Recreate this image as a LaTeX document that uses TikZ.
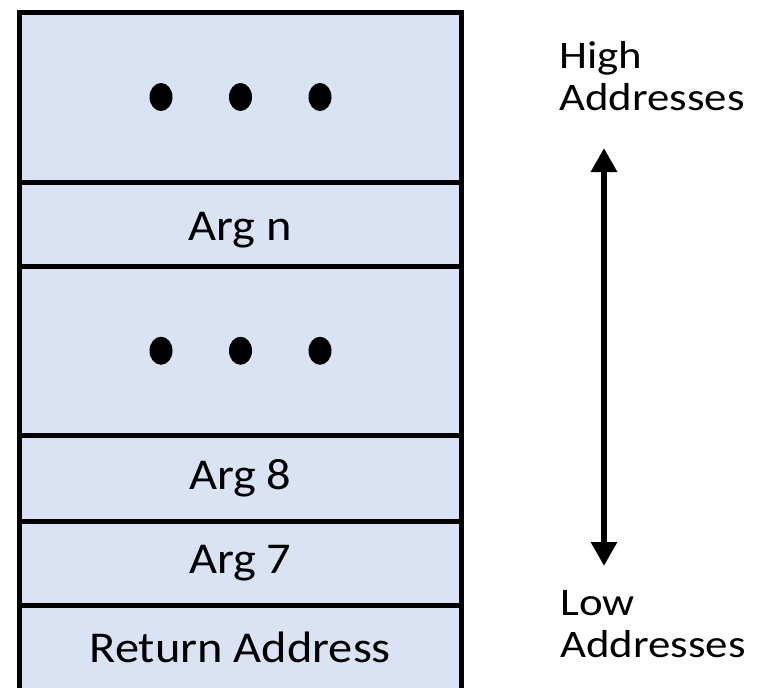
\documentclass[tikz,border=0pt]{standalone}
\usepackage{fontspec}
\setmainfont{Carlito}[FakeStretch=1.15]
\newfontfamily\cellfont{Carlito}[FakeStretch=1.1]
\usepackage{xcolor}
\usepackage{tikz}
\usetikzlibrary{arrows.meta, positioning, shapes.geometric}
\definecolor{cell}{HTML}{DAE3F3}

\begin{document}
\begin{tikzpicture}[x=1pt, y=-1pt,
  frame/.style={rectangle, draw=black, line width=5pt, fill=cell, minimum width=441.5pt, inner sep=0pt, font=\cellfont\fontsize{44}{50}\selectfont},
  dot/.style={ellipse, fill=black, minimum width=23pt, minimum height=28pt, inner sep=0pt},
  side/.style={anchor=north west, inner sep=0pt, align=left, font=\fontsize{39}{42}\selectfont},
  arrow/.style={{Triangle[length=24pt, width=25pt]}-{Triangle[length=24pt, width=25pt]}, line width=6.5pt, black}
]
  \useasboundingbox (0,0) rectangle (763,688);

  % Stack frame, top to bottom
  \node[frame, minimum height=170pt] (more1) at (240.25,97) {};
  \node[frame, minimum height=84pt] (argn) at (240.25,224) {};
  \node[frame, minimum height=169.5pt] (more2) at (240.25,350.75) {};
  \node[frame, minimum height=85.5pt] (arg8) at (240.25,478.25) {Arg 8};
  \node[frame, minimum height=84.5pt] (arg7) at (240.25,563.25) {Arg 7};
  \node[frame, minimum height=84.5pt] (ret) at (240.25,647.75) {Return Address};
  \node[font=\cellfont\fontsize{44}{50}\selectfont, yshift=-6pt] (argnlabel) at (argn) {Arg n};

  % Dots in the open rows
  \foreach \x/\n in {161/a, 240.5/b, 320/c} {
    \node[dot] (top\n) at (\x,97) {};
    \node[dot] (mid\n) at (\x,350.75) {};
  }

  % Address direction
  \node[side] (high) at (559,41.5) {High\\Addresses};
  \node[side] (low) at (560,590) {Low\\Addresses};
  \coordinate (up) at (604,148);
  \coordinate (down) at (604,566);
  \draw[arrow] (down) -- (up);

\end{tikzpicture}
\end{document}
